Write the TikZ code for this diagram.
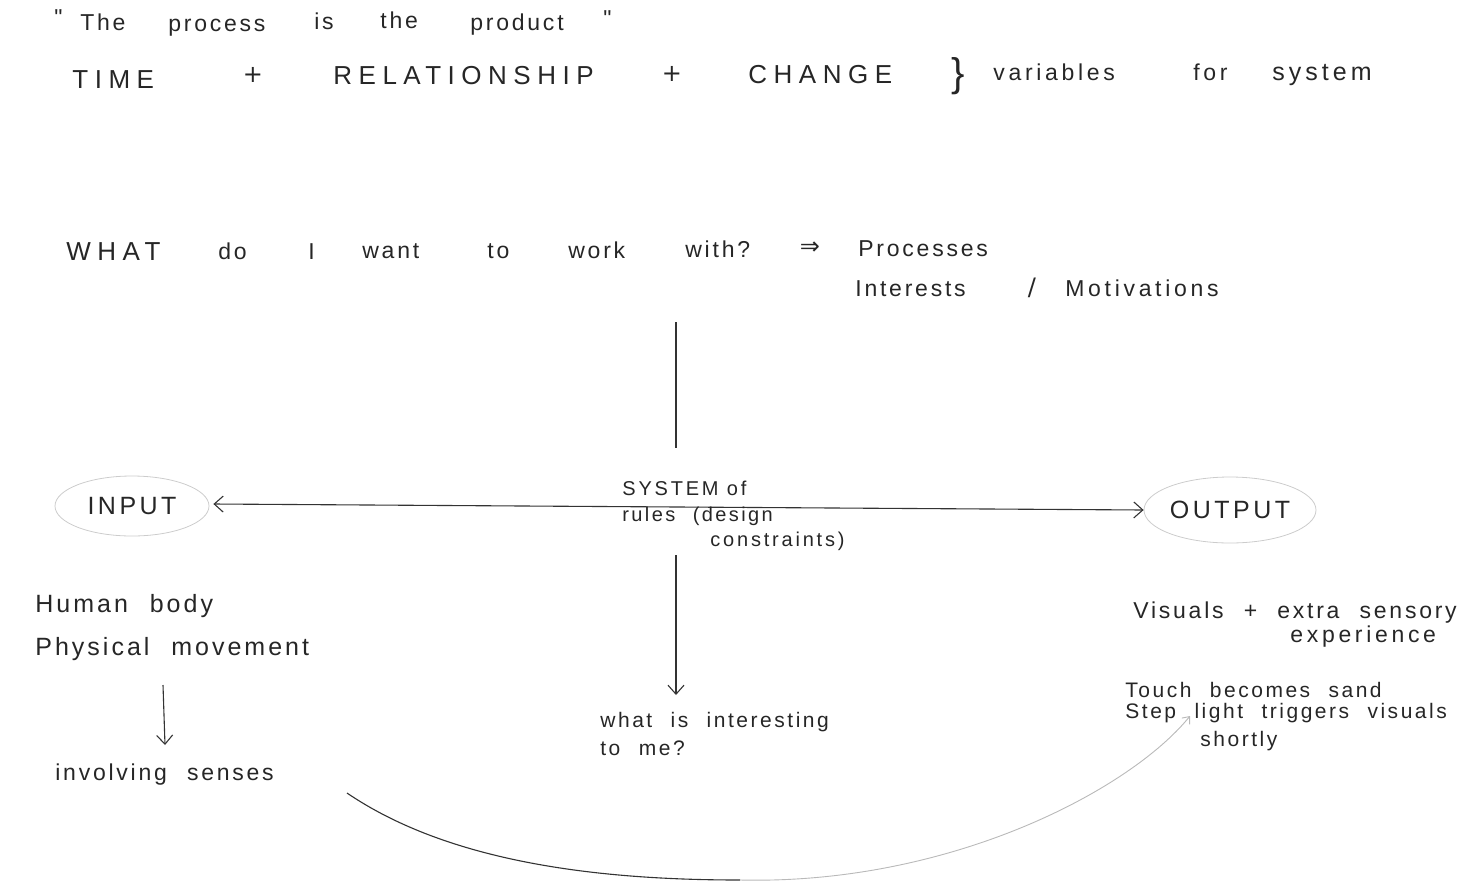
\documentclass[tikz,border=0pt]{standalone}
\usepackage{fontspec}
\setmainfont{Liberation Sans}
\newfontfamily\hand[LetterSpace=12,WordSpace=2.2]{Liberation Sans}
\newfontfamily\handw[LetterSpace=16,WordSpace=2.2]{Liberation Sans}
\newfontfamily\capsf[LetterSpace=25]{Liberation Sans}
\newfontfamily\capsn[LetterSpace=14]{Liberation Sans}
\newfontfamily\symf{DejaVu Sans}
\usetikzlibrary{arrows.meta,shapes.geometric}
\begin{document}
\begin{tikzpicture}[x=0.5pt,y=-0.5pt,
  lw/.style={anchor=base west, inner sep=0pt, text=black!85, font=\hand\fontsize{11.5}{14}\selectfont},
  lww/.style={anchor=base west, inner sep=0pt, text=black!85, font=\handw\fontsize{11.5}{14}\selectfont},
  sw/.style={anchor=base west, inner sep=0pt, text=black!85, font=\handw\fontsize{10}{12.5}\selectfont},
  cw/.style={anchor=base west, inner sep=0pt, text=black!85, font=\capsf\fontsize{13}{15}\selectfont},
  sym/.style={anchor=center, inner sep=0pt, text=black!85, font=\symf\fontsize{12}{14}\selectfont},
  bubble/.style={ellipse, draw=gray!40, line width=0.4pt, inner sep=0pt, text=black!85, font=\capsn\fontsize{12.5}{15}\selectfont},
  conn/.style={draw=black!80, line width=0.55pt},
  barb/.style={-{Straight Barb[length=4.5pt,width=8pt]}},
  barbs/.style={{Straight Barb[length=4.5pt,width=8pt]}-{Straight Barb[length=4.5pt,width=8pt]}}
]
\useasboundingbox (0,0) rectangle (1479,895);

% line 1
\node[lw] (q1) at (54,25) {"};
\node[lw] (w1) at (80,30) {The};
\node[lw] (w2) at (168,31) {process};
\node[lw] (w3) at (314,29) {is};
\node[lw] (w4) at (380,28) {the};
\node[lw] (w5) at (470,30) {product};
\node[lw] (q2) at (603,26) {"};

% line 2
\node[cw] (time) at (72,88) {TIME};
\node[sym] (p1) at (253,75) {+};
\node[cw] (rel) at (333,84) {RELATIONSHIP};
\node[sym] (p2) at (672,74) {+};
\node[cw] (chg) at (748,83) {CHANGE};
\node[anchor=center, inner sep=0pt, text=black!85, font=\fontsize{20}{22}\selectfont] (br) at (958,76) {\}};
\node[lww] (var) at (993,80) {variables};
\node[lww] (for) at (1193,80) {for};
\node[lww, font=\handw\fontsize{12.5}{15}\selectfont] (sys2) at (1272,80) {system};

% question line
\node[cw] (what) at (66,260) {WHAT};
\node[lw] (do) at (218,259) {do};
\node[lw] (i) at (308,259) {I};
\node[lw] (want) at (362,258) {want};
\node[lw] (to) at (487,258) {to};
\node[lw] (work) at (568,258) {work};
\node[lw] (with) at (685,257) {with?};
\node[sym] (impl) at (810,248) {⇒};
\node[lw] (proc) at (858,256) {Processes};
\node[lw] (int) at (855,296) {Interests};
\node[sym] (sl) at (1032,288) {/};
\node[lww] (mot) at (1065,296) {Motivations};

% vertical line from question
\coordinate (vt) at (676,322);
\coordinate (vb) at (676,448);
\draw[conn] (vt) -- (vb);

% input / output
\node[bubble, minimum width=77pt, minimum height=30pt] (in) at (132,506) {INPUT};
\node[bubble, minimum width=86pt, minimum height=33pt] (out) at (1230,510) {OUTPUT};
\draw[conn, barbs] ([xshift=2pt,yshift=1pt]in.east) -- (out.west);

% system of rules
\node[anchor=north west, inner sep=0pt, align=left, text=black!85, font=\fontsize{10}{12.5}\selectfont] (sys) at (622,481)
  {{\capsn SYSTEM of}\\[0.3pt]{\hand rules (design}\\{\capsn\hspace*{44pt}constraints)}};

% vertical arrow down
\coordinate (va) at (676,555);
\node[anchor=north west, inner sep=0pt, align=left, text=black!85, font=\hand\fontsize{10.5}{14}\selectfont] (int2) at (600,712)
  {what is interesting\\to me?};
\draw[conn, barb] (va) -- (676,695);

% left column
\node[lw, font=\hand\fontsize{12.5}{15}\selectfont] (hb) at (35,612) {Human body};
\node[lw, font=\hand\fontsize{12.5}{15}\selectfont] (pm) at (35,655) {Physical movement};
\coordinate (la) at (163,685);
\node[lw] (inv) at (55,780) {involving senses};
\draw[conn, barb] (la) -- (165,745);

% right column
\node[lw] (vis) at (1133,618) {Visuals + extra sensory};
\node[lww] (exp) at (1290,642) {experience};
\node[lw, font=\hand\fontsize{10.5}{13}\selectfont] (touch) at (1125,697) {Touch becomes sand};
\node[lw, font=\hand\fontsize{10.5}{13}\selectfont] (step) at (1125,718) {Step light triggers visuals};
\node[lw, font=\hand\fontsize{10.5}{13}\selectfont] (short) at (1200,746) {shortly};

% curve
\coordinate (cs) at (347,793);
\coordinate (cm) at (740,880);
\coordinate (ce) at (1190,716);
\draw[draw=black!80, line width=0.55pt] (cs) .. controls (450,863) and (600,880) .. (cm);
\draw[draw=gray!55, line width=0.45pt, -{Straight Barb[length=3pt,width=5pt]}] (cm) .. controls (950,885) and (1130,790) .. (ce);
\end{tikzpicture}
\end{document}
